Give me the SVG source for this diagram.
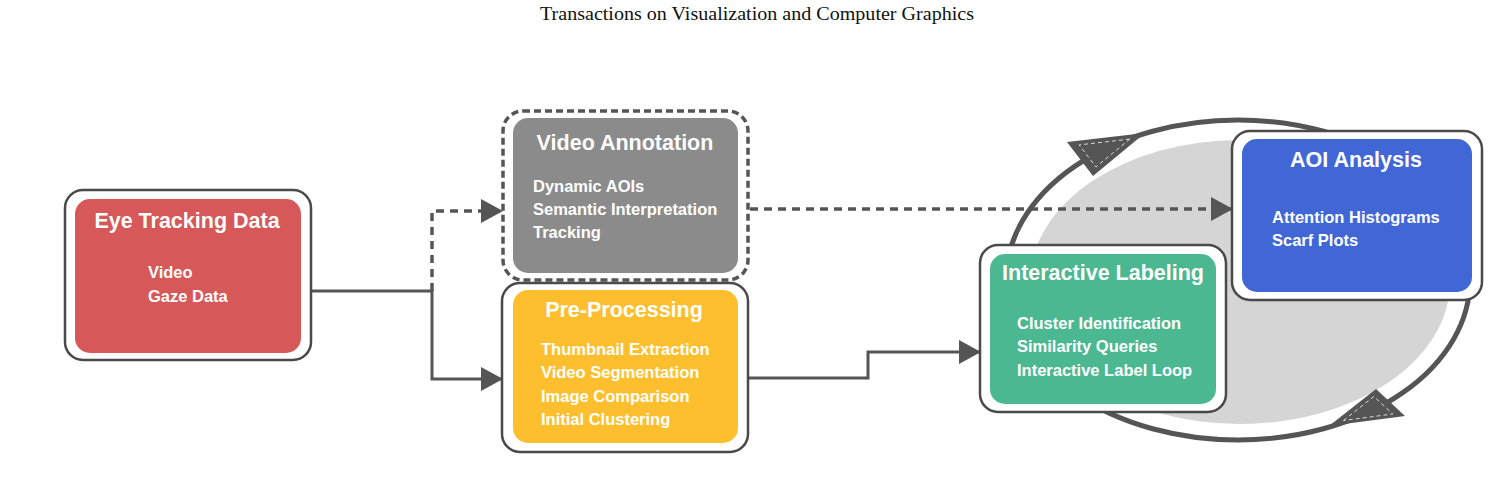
<svg xmlns="http://www.w3.org/2000/svg" width="1504" height="486" viewBox="0 0 1504 486">
<style>
.outer{fill:#fff;stroke:#4a4a4a;stroke-width:2.5}
.dashouter{fill:#fff;stroke:#555;stroke-width:3.5;stroke-dasharray:7 4}
.title{font-family:"Liberation Sans",Arial,sans-serif;font-weight:bold;font-size:21.5px;fill:#fff;text-anchor:middle}
.item{font-family:"Liberation Sans",Arial,sans-serif;font-weight:bold;font-size:16.5px;fill:#fff}
.conn{fill:none;stroke:#555;stroke-width:3}
.dash{fill:none;stroke:#555;stroke-width:3.5;stroke-dasharray:8 6}
.head{fill:#555}
.inner{fill:none;stroke:#d8d8d8;stroke-width:1;stroke-dasharray:4 3}
</style>
<defs>
<marker id="arr" markerUnits="userSpaceOnUse" markerWidth="22" markerHeight="24" refX="21" refY="12" orient="auto">
<path d="M0,0 L22,12 L0,24 Z" fill="#555"/>
</marker>
</defs>
<rect width="1504" height="486" fill="#fff"/>
<text x="757" y="20" font-family="Liberation Serif,serif" font-size="18" text-anchor="middle" fill="#111" textLength="434" lengthAdjust="spacingAndGlyphs">Transactions on Visualization and Computer Graphics</text>

<g id="loop">
<ellipse cx="1240" cy="282" rx="210" ry="142" fill="#d5d5d5"/>
<ellipse cx="1238" cy="280" rx="232" ry="160" fill="none" stroke="#555" stroke-width="5"/>
<polygon class="head" points="1145,133 1067,142 1093,176"/>
<polygon class="inner" points="1129.8,139.1 1079.1,144.9 1096,167"/>
<polygon class="head" points="1329,426 1376,389 1405,416"/>
<polygon class="inner" points="1343.4,420.5 1373.9,396.5 1392.8,414"/>
</g>

<g id="connectors">
<polyline class="conn" points="311,291 432,291 432,379 502,379" marker-end="url(#arr)"/>
<polyline class="dash" points="432,291 432,211 502,211" marker-end="url(#arr)"/>
<polyline class="dash" points="750,209 1232,209" marker-end="url(#arr)"/>
<polyline class="conn" points="748,378 868,378 868,352 980,352" marker-end="url(#arr)"/>
</g>

<g id="eye-tracking-data">
<rect class="outer" x="65" y="190" width="246" height="170" rx="18"/>
<rect x="75" y="199" width="226" height="154" rx="15" fill="#d65858"/>
<text class="title" x="187" y="228">Eye Tracking Data</text>
<text class="item" x="148" y="278">Video</text>
<text class="item" x="148" y="302">Gaze Data</text>
</g>

<g id="video-annotation">
<rect class="dashouter" x="503" y="111" width="245" height="169" rx="20"/>
<rect x="513" y="118" width="225" height="155" rx="15" fill="#8b8b8b"/>
<text class="title" x="625" y="150">Video Annotation</text>
<text class="item" x="533" y="192">Dynamic AOIs</text>
<text class="item" x="533" y="215">Semantic Interpretation</text>
<text class="item" x="533" y="238">Tracking</text>
</g>

<g id="pre-processing">
<rect class="outer" x="502" y="283" width="246" height="169" rx="18"/>
<rect x="513" y="290" width="225" height="153" rx="15" fill="#fdbf2d"/>
<text class="title" x="624" y="317">Pre-Processing</text>
<text class="item" x="541" y="355">Thumbnail Extraction</text>
<text class="item" x="541" y="378">Video Segmentation</text>
<text class="item" x="541" y="402">Image Comparison</text>
<text class="item" x="541" y="425">Initial Clustering</text>
</g>

<g id="interactive-labeling">
<rect class="outer" x="980" y="245" width="246" height="167" rx="18"/>
<rect x="990" y="254" width="226" height="150" rx="15" fill="#4cb892"/>
<text class="title" x="1103" y="280">Interactive Labeling</text>
<text class="item" x="1017" y="329">Cluster Identification</text>
<text class="item" x="1017" y="352">Similarity Queries</text>
<text class="item" x="1017" y="376">Interactive Label Loop</text>
</g>

<g id="aoi-analysis">
<rect class="outer" x="1232" y="131" width="250" height="169" rx="18"/>
<rect x="1242" y="139" width="230" height="153" rx="15" fill="#4167d6"/>
<text class="title" x="1356" y="167">AOI Analysis</text>
<text class="item" x="1272" y="223">Attention Histograms</text>
<text class="item" x="1272" y="246">Scarf Plots</text>
</g>
</svg>
